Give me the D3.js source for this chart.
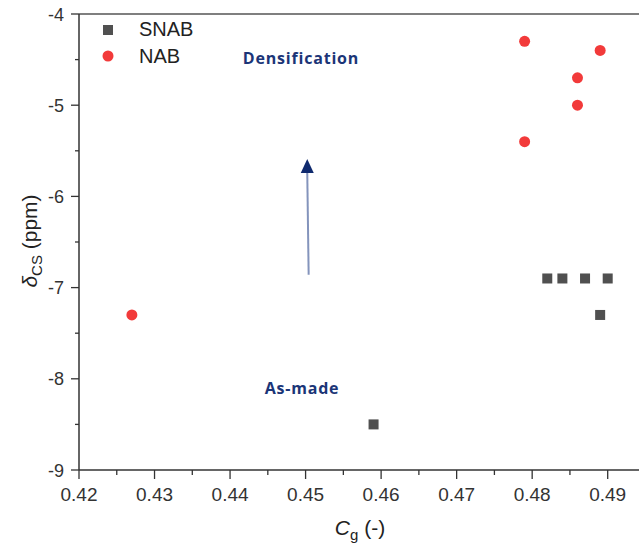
<!DOCTYPE html>
<html>
<head>
<meta charset="utf-8">
<script src="https://cdn.jsdelivr.net/npm/d3@7"></script>
<style>
html,body{margin:0;padding:0;background:#fff;overflow:hidden;}
svg{display:block;}
</style>
</head>
<body>
<svg id="chart" width="639" height="550"></svg>
<script>
// Data
const snabX = [0.459, 0.482, 0.484, 0.487, 0.490, 0.489];
const snabY = [-8.5, -6.9, -6.9, -6.9, -6.9, -7.3];
const nabX = [0.427, 0.479, 0.489, 0.486, 0.486, 0.479];
const nabY = [-7.3, -4.3, -4.4, -4.7, -5.0, -5.4];
const xTicks = [0.42, 0.43, 0.44, 0.45, 0.46, 0.47, 0.48, 0.49];
const yTicks = [-9, -8, -7, -6, -5, -4];
const seriesNames = ["SNAB", "NAB"];
const arrowX = 0.4503, arrowFrom = -6.86, arrowTo = -5.6;

(function () {
const svg = d3.select("#chart");
const mLeft = 79, mTop = 14, mBottom = 470;
const x = d3.scaleLinear().domain([0.42, 0.49]).range([mLeft, 607.7]);
const y = d3.scaleLinear().domain([-9, -4]).range([mBottom, mTop]);
const xMax = 0.4955;
const font = "'Liberation Sans', Arial, sans-serif";
const axisCol = "#333";

// Axes
const xAxis = svg.append("g").attr("transform", `translate(0,${mBottom})`);
xAxis.append("line").attr("x1", mLeft).attr("x2", x(xMax)).attr("stroke", axisCol).attr("stroke-width", 1.5);
const xMinor = d3.range(0.425, 0.4951, 0.01);
xAxis.selectAll("line.minor").data(xMinor).join("line").attr("class","minor")
  .attr("x1", d => x(d)).attr("x2", d => x(d)).attr("y1", 0).attr("y2", 5)
  .attr("stroke", axisCol).attr("stroke-width", 1.3);
xAxis.selectAll("line.major").data(xTicks).join("line").attr("class","major")
  .attr("x1", d => x(d)).attr("x2", d => x(d)).attr("y1", 0).attr("y2", 9)
  .attr("stroke", axisCol).attr("stroke-width", 1.3);
xAxis.selectAll("text").data(xTicks).join("text")
  .attr("x", d => x(d)).attr("y", 31).attr("text-anchor", "middle")
  .attr("font-family", font).attr("font-size", 19).attr("fill", axisCol)
  .text(d => d3.format(".2f")(d));

// top line
svg.append("line").attr("x1", mLeft).attr("x2", x(xMax)).attr("y1", mTop).attr("y2", mTop)
  .attr("stroke", "#555").attr("stroke-width", 1.5);

const yAxis = svg.append("g").attr("transform", `translate(${mLeft},0)`);
yAxis.append("line").attr("y1", mTop).attr("y2", mBottom).attr("stroke", axisCol).attr("stroke-width", 1.5);
const yMinor = d3.range(-8.5, -4, 1);
yAxis.selectAll("line.minor").data(yMinor).join("line").attr("class","minor")
  .attr("y1", d => y(d)).attr("y2", d => y(d)).attr("x1", 0).attr("x2", -4)
  .attr("stroke", axisCol).attr("stroke-width", 1.3);
yAxis.selectAll("line.major").data(yTicks).join("line").attr("class","major")
  .attr("y1", d => y(d)).attr("y2", d => y(d)).attr("x1", 0).attr("x2", -8)
  .attr("stroke", axisCol).attr("stroke-width", 1.3);
yAxis.selectAll("text").data(yTicks).join("text")
  .attr("x", -15).attr("y", d => y(d) + 6.5).attr("text-anchor", "end")
  .attr("font-family", font).attr("font-size", 18).attr("fill", axisCol)
  .text(d => String(d));

// Axis titles
const xt = svg.append("text").attr("x", 360).attr("y", 535).attr("text-anchor", "middle")
  .attr("font-family", font).attr("font-size", 21).attr("fill", "#222");
xt.append("tspan").attr("font-style", "italic").text("C");
xt.append("tspan").attr("font-size", 15).attr("dy", 5).text("g");
xt.append("tspan").attr("dy", -5).text(" (-)");

const yt = svg.append("text").attr("transform", "translate(37,241) rotate(-90)").attr("text-anchor", "middle")
  .attr("font-family", font).attr("font-size", 21).attr("fill", "#222");
yt.append("tspan").attr("font-style", "italic").text("δ");
yt.append("tspan").attr("font-size", 15).attr("dy", 5).text("CS");
yt.append("tspan").attr("dy", -5).text(" (ppm)");

// Arrow
svg.append("line").attr("x1", x(arrowX) + 0.8).attr("x2", x(arrowX) - 0.6)
  .attr("y1", y(arrowFrom)).attr("y2", y(arrowTo) + 12)
  .attr("stroke", "#8494bc").attr("stroke-width", 2);
const tipX = x(arrowX) - 0.6, tipY = y(arrowTo);
svg.append("path").attr("d", `M${tipX},${tipY - 1} L${tipX - 6.5},${tipY + 13} L${tipX + 6.5},${tipY + 13} Z`)
  .attr("fill", "#0f2a6e");

// Annotations
const annFont = "'Open Sans', 'Noto Sans', sans-serif";
svg.append("text").attr("x", 301).attr("y", 64).attr("text-anchor", "middle")
  .attr("font-family", annFont).attr("font-weight", "bold").attr("font-size", 16)
  .attr("letter-spacing", 0.8).attr("fill", "#1b3577").text("Densification");
svg.append("text").attr("x", 302).attr("y", 394).attr("text-anchor", "middle")
  .attr("font-family", annFont).attr("font-weight", "bold").attr("font-size", 16)
  .attr("letter-spacing", 0.8).attr("fill", "#1b3577").text("As-made");

// Points
const snab = snabX.map((d, i) => ({x: d, y: snabY[i]}));
const nab = nabX.map((d, i) => ({x: d, y: nabY[i]}));
const sq = 10;
svg.append("g").selectAll("rect").data(snab).join("rect")
  .attr("x", d => x(d.x) - sq/2).attr("y", d => y(d.y) - sq/2)
  .attr("width", sq).attr("height", sq).attr("fill", "#505050");
svg.append("g").selectAll("circle").data(nab).join("circle")
  .attr("cx", d => x(d.x)).attr("cy", d => y(d.y)).attr("r", 5.5).attr("fill", "#f23a3a");

// Legend
const lg = svg.append("g");
lg.append("rect").attr("x", 103).attr("y", 25).attr("width", sq).attr("height", sq).attr("fill", "#505050");
lg.append("circle").attr("cx", 108).attr("cy", 56).attr("r", 5.5).attr("fill", "#f23a3a");
lg.selectAll("text").data(seriesNames).join("text")
  .attr("x", 139).attr("y", (d, i) => 36 + i * 26.5)
  .attr("font-family", font).attr("font-size", 20).attr("fill", "#222").text(d => d);
})();
</script>
</body>
</html>
